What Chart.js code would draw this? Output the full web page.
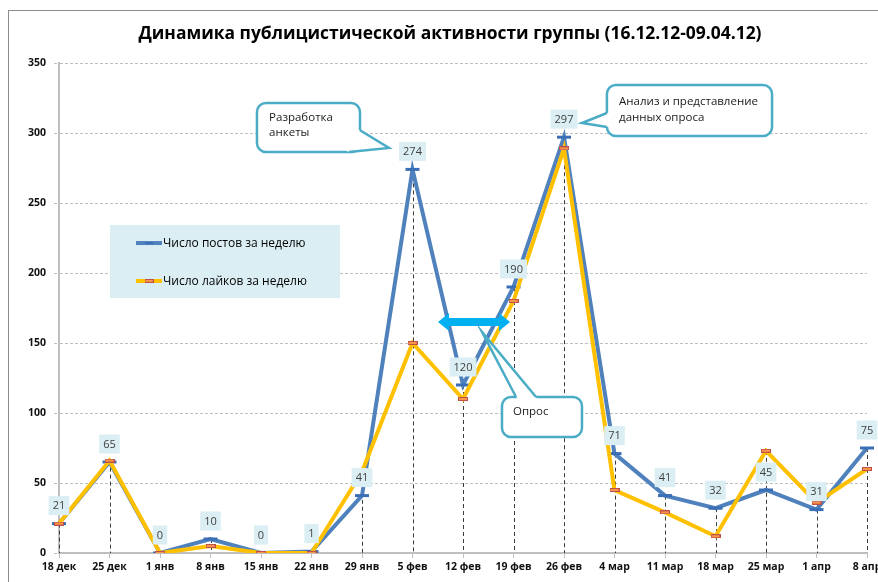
<!DOCTYPE html>
<html><head><meta charset="utf-8">
<script src="https://cdn.jsdelivr.net/npm/chart.js@4"></script>
<style>html,body{margin:0;padding:0;background:#fff}#wrap{width:878px;height:582px;position:relative}</style>
</head><body><div id="wrap"><canvas id="c" width="878" height="582"></canvas></div>
<script>
const categories = ['18 дек','25 дек','1 янв','8 янв','15 янв','22 янв','29 янв','5 фев','12 фев','19 фев','26 фев','4 мар','11 мар','18 мар','25 мар','1 апр','8 апр'];
const postsPerWeek = [21, 65, 0, 10, 0, 1, 41, 274, 120, 190, 297, 71, 41, 32, 45, 31, 75];
const likesPerWeek = [21, 66, 0, 5, 0, 0, 58, 150, 110, 180, 289, 45, 29, 12, 73, 36, 60];
const yTicks = [0, 50, 100, 150, 200, 250, 300, 350];
const seriesNames = ['Число постов за неделю', 'Число лайков за неделю'];
const titleText = 'Динамика публицистической активности группы (16.12.12-09.04.12)';
const calloutTexts = [['Разработка', 'анкеты'], ['Анализ и представление', 'данных опроса'], ['Опрос']];

const FONT = '"Open Sans", "Noto Sans", sans-serif';
const BLUE = '#4F81BD', BLUE_MK = '#3A6EB5', YEL = '#FFC000';

// annotation geometry in scale units (category index, value)
const calloutGeom = [
  {box: [3.92, 5.96, 321.4, 286.4], tail: [[5.96, 302], [6.535, 289.3], [5.74, 286.4]], tx: 4.16, ty: [311, 300]},
  {box: [10.85, 14.12, 334.3, 297.9], tail: [[10.85, 314.3], [10.356, 307.1], [10.85, 304.3]], tx: 11.09, ty: [322.1, 310.7]},
  {box: [8.772, 10.356, 111.4, 82.9], tail: [[9.05, 111.4], [8.376, 157.9], [9.446, 111.4]], tx: 8.99, ty: [100.7]}
];
const arrowGeom = {x0: 7.505, x1: 8.931, v: 165};
const legendGeom = {box: [1.01, 5.564, 234.3, 182.1], lx0: 1.525, lx1: 2.04, tx: 2.059, rows: [221.4, 194.3]};

function rectMarker() {
  const c = document.createElement('canvas');
  c.width = 10; c.height = 4;
  const g = c.getContext('2d');
  g.fillStyle = '#F79646'; g.fillRect(0.5, 0.5, 9, 3);
  g.strokeStyle = '#C0504D'; g.lineWidth = 1; g.strokeRect(0.5, 0.5, 9, 3);
  return c;
}
const likeMarker = rectMarker();

function rrPath(ctx, x, y, w, h, r) {
  ctx.beginPath();
  ctx.moveTo(x + r, y);
  ctx.lineTo(x + w - r, y); ctx.arcTo(x + w, y, x + w, y + r, r);
  ctx.lineTo(x + w, y + h - r); ctx.arcTo(x + w, y + h, x + w - r, y + h, r);
  ctx.lineTo(x + r, y + h); ctx.arcTo(x, y + h, x, y + h - r, r);
  ctx.lineTo(x, y + r); ctx.arcTo(x, y, x + r, y, r);
  ctx.closePath();
}

const decor = {
  id: 'decor',
  beforeDatasetsDraw(chart) {
    const {ctx, chartArea} = chart;
    const sx = chart.scales.x, sy = chart.scales.y;
    ctx.save();
    ctx.strokeStyle = '#3c3c3c'; ctx.lineWidth = 1; ctx.setLineDash([4, 3]);
    categories.forEach((c, i) => {
      const top = sy.getPixelForValue(Math.max(postsPerWeek[i], likesPerWeek[i]));
      const x = Math.round(sx.getPixelForValue(i)) + 0.5;
      ctx.beginPath(); ctx.moveTo(x, top); ctx.lineTo(x, chartArea.bottom); ctx.stroke();
    });
    ctx.restore();
  },
  afterDatasetsDraw(chart) {
    const {ctx} = chart;
    const sx = chart.scales.x, sy = chart.scales.y;
    const X = v => sx.getPixelForValue(v), Y = v => sy.getPixelForValue(v);
    ctx.save();
    ctx.font = '11px ' + FONT;
    ctx.textAlign = 'center'; ctx.textBaseline = 'middle';
    postsPerWeek.forEach((v, i) => {
      const x = X(i), y = Y(v) - 18;
      const t = String(v);
      const w = ctx.measureText(t).width + 8, h = 19;
      ctx.fillStyle = '#DAEEF3';
      ctx.fillRect(x - w / 2, y - h / 2, w, h);
      ctx.fillStyle = '#404040';
      ctx.fillText(t, x, y + 0.5);
    });
    const ax0 = X(arrowGeom.x0), ax1 = X(arrowGeom.x1), ay = Y(arrowGeom.v);
    const hl = 11, sh = 4, hh = 9;
    ctx.fillStyle = '#00B0F0';
    ctx.beginPath();
    ctx.moveTo(ax0, ay);
    ctx.lineTo(ax0 + hl, ay - hh); ctx.lineTo(ax0 + hl, ay - sh);
    ctx.lineTo(ax1 - hl, ay - sh); ctx.lineTo(ax1 - hl, ay - hh);
    ctx.lineTo(ax1, ay);
    ctx.lineTo(ax1 - hl, ay + hh); ctx.lineTo(ax1 - hl, ay + sh);
    ctx.lineTo(ax0 + hl, ay + sh); ctx.lineTo(ax0 + hl, ay + hh);
    ctx.closePath(); ctx.fill();
    ctx.restore();
  },
  afterDraw(chart) {
    const {ctx} = chart;
    const sx = chart.scales.x, sy = chart.scales.y;
    const X = v => sx.getPixelForValue(v), Y = v => sy.getPixelForValue(v);
    ctx.save();
    ctx.strokeStyle = '#8c8c8c'; ctx.lineWidth = 1;
    ctx.strokeRect(8.5, 10.5, 1000, 1000);
    let fs = 20;
    ctx.font = 'bold ' + fs + 'px ' + FONT;
    fs = fs * 624 / ctx.measureText(titleText).width;
    ctx.font = 'bold ' + fs.toFixed(2) + 'px ' + FONT;
    ctx.fillStyle = '#000'; ctx.textAlign = 'center'; ctx.textBaseline = 'middle';
    ctx.fillText(titleText, 450, 34);
    const lg = legendGeom;
    const bx0 = X(lg.box[0]), bx1 = X(lg.box[1]), by0 = Y(lg.box[2]), by1 = Y(lg.box[3]);
    ctx.fillStyle = '#DAEEF3';
    ctx.fillRect(bx0, by0, bx1 - bx0, by1 - by0);
    ctx.font = '12px ' + FONT; ctx.textAlign = 'left'; ctx.textBaseline = 'middle';
    lg.rows.forEach((rv, k) => {
      const y = Y(rv), l0 = X(lg.lx0), l1 = X(lg.lx1), m = (l0 + l1) / 2;
      ctx.strokeStyle = k === 0 ? BLUE : YEL; ctx.lineWidth = 4;
      ctx.beginPath(); ctx.moveTo(l0, y); ctx.lineTo(l1, y); ctx.stroke();
      if (k === 0) {
        ctx.strokeStyle = BLUE_MK; ctx.lineWidth = 2;
        ctx.beginPath(); ctx.moveTo(m - 4, y); ctx.lineTo(m + 4, y); ctx.stroke();
      } else {
        ctx.drawImage(likeMarker, m - 4.5, y - 2, 9, 4);
      }
      ctx.fillStyle = '#000';
      ctx.fillText(seriesNames[k], X(lg.tx), y + 0.5);
    });
    calloutGeom.forEach((c, k) => {
      const x0 = X(c.box[0]), x1 = X(c.box[1]), y0 = Y(c.box[2]), y1 = Y(c.box[3]);
      ctx.lineWidth = 2.5; ctx.strokeStyle = '#4BACC6'; ctx.fillStyle = '#fff';
      rrPath(ctx, x0, y0, x1 - x0, y1 - y0, 9);
      ctx.fill(); ctx.stroke();
      const pts = c.tail.map(p => [X(p[0]), Y(p[1])]);
      const cx = (x0 + x1) / 2, cy = (y0 + y1) / 2;
      const inw = p => { const dx = cx - p[0], dy = cy - p[1], d = Math.hypot(dx, dy); return [p[0] + dx / d * 6, p[1] + dy / d * 6]; };
      const a = inw(pts[0]), b = inw(pts[2]);
      ctx.beginPath();
      ctx.moveTo(a[0], a[1]); ctx.lineTo(pts[0][0], pts[0][1]); ctx.lineTo(pts[1][0], pts[1][1]);
      ctx.lineTo(pts[2][0], pts[2][1]); ctx.lineTo(b[0], b[1]); ctx.closePath();
      ctx.fill();
      ctx.beginPath();
      ctx.moveTo(pts[0][0], pts[0][1]); ctx.lineTo(pts[1][0], pts[1][1]); ctx.lineTo(pts[2][0], pts[2][1]);
      ctx.stroke();
      ctx.fillStyle = '#1a1a1a'; ctx.font = '11.5px ' + FONT; ctx.textAlign = 'left'; ctx.textBaseline = 'middle';
      calloutTexts[k].forEach((t, j) => ctx.fillText(t, X(c.tx), Y(c.ty[j])));
    });
    ctx.restore();
  }
};

const chart = new Chart(document.getElementById('c'), {
  type: 'line',
  data: {
    labels: categories,
    datasets: [
      {label: seriesNames[0], data: postsPerWeek, borderColor: BLUE, borderWidth: 4, tension: 0,
       pointStyle: 'line', pointRadius: 7, pointBorderWidth: 3, pointBorderColor: BLUE_MK, pointBackgroundColor: BLUE_MK, order: 1},
      {label: seriesNames[1], data: likesPerWeek, borderColor: YEL, borderWidth: 4, tension: 0,
       pointStyle: likeMarker, pointRadius: 5, order: 0}
    ]
  },
  options: {
    responsive: false, animation: false,
    layout: {padding: {top: 63, left: 0, right: 11, bottom: 0}},
    plugins: {legend: {display: false}, tooltip: {enabled: false}, title: {display: false}},
    scales: {
      x: {
        offset: false,
        grid: {display: true, drawOnChartArea: false, tickLength: 5, color: '#BFBFBF', lineWidth: 1},
        border: {display: true, color: '#BFBFBF', width: 2},
        ticks: {font: {family: FONT, size: 10.5, weight: 'bold'}, color: '#111', padding: 3, maxRotation: 0, autoSkip: false},
        afterFit(s) { s.height = 29; s.paddingLeft = 0; s.paddingRight = 0; }
      },
      y: {
        min: 0, max: 350,
        afterBuildTicks(s) { s.ticks = yTicks.map(v => ({value: v})); },
        grid: {color: '#BFBFBF', lineWidth: 1, tickLength: 5, tickBorderDash: [3, 2]},
        border: {display: true, color: '#BFBFBF', width: 2, dash: [3, 2]},
        ticks: {font: {family: FONT, size: 10.5, weight: 'bold'}, color: '#111', padding: 8},
        afterFit(s) { s.width = 59; }
      }
    }
  },
  plugins: [decor]
});
</script>
</body></html>
